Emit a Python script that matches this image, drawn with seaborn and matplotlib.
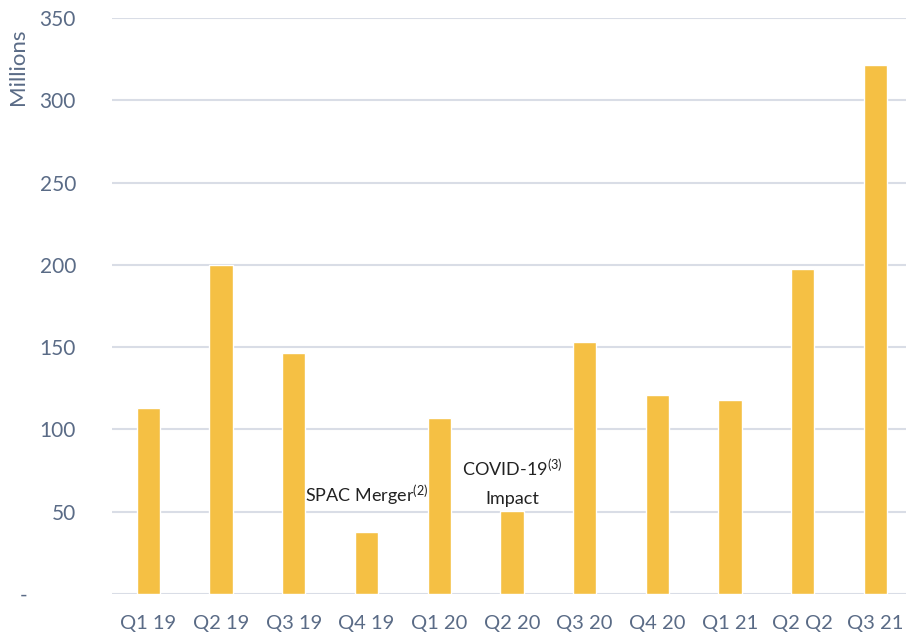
import seaborn as sns
import numpy as np
import pandas as pd
import matplotlib.pyplot as plt

quarters = ['Q1 19', 'Q2 19', 'Q3 19', 'Q4 19', 'Q1 20', 'Q2 20', 'Q3 20', 'Q4 20', 'Q1 21', 'Q2 Q2', 'Q3 21']
values = [113, 200, 146.5, 37.5, 107, 50.5, 153, 121, 118, 197.5, 321.5]
y_ticks = [0, 50, 100, 150, 200, 250, 300, 350]
y_tick_labels = ['-' + ' ' * 9, '50', '100', '150', '200', '250', '300', '350']

bar_color = '#F5C044'
text_color = '#5A6B86'
grid_color = '#D9DDE6'

sns.set_style('white')
plt.rcParams['font.family'] = ['Lato', 'DejaVu Sans']
plt.rcParams['mathtext.fontset'] = 'custom'
plt.rcParams['mathtext.rm'] = 'Lato'
plt.rcParams['mathtext.default'] = 'rm'

fig = plt.figure(figsize=(9.06, 6.36), dpi=100)
ax = fig.add_axes([112 / 906, 1 - 594 / 636, 1 - 112 / 906, (594 - 18) / 636])

df = pd.DataFrame({'quarter': quarters, 'value': values})
sns.barplot(data=df, x='quarter', y='value', color=bar_color, saturation=1, width=0.32, ax=ax)

ax.set_ylim(0, 350)
ax.set_xlim(-0.5, 10.42)
ax.set_yticks(y_ticks)
ax.set_yticklabels(y_tick_labels)
ax.yaxis.grid(True, color=grid_color, linewidth=1.5)
ax.set_axisbelow(True)
for side in ['top', 'right', 'left', 'bottom']:
    ax.spines[side].set_visible(False)
ax.tick_params(axis='y', length=0, pad=26, labelsize=15, labelcolor=text_color)
ax.tick_params(axis='x', length=0, pad=15, labelsize=14.5, labelcolor=text_color)
ax.set_xlabel('')
ax.set_ylabel('')

fig.text(18 / 906, 1 - 67 / 636, 'Millions', rotation=90, ha='center', va='center',
         fontsize=16, color=text_color)

# Annotations
ax.text(3, 52, 'SPAC Merger$^{(2)}$', ha='center', va='bottom', fontsize=13, color='#222222')
ax.text(5, 70, 'COVID-19$^{(3)}$', ha='center', va='bottom', fontsize=13, color='#222222')
ax.text(5, 53, 'Impact', ha='center', va='bottom', fontsize=13, color='#222222')

fig.savefig('out.png', dpi=100)
